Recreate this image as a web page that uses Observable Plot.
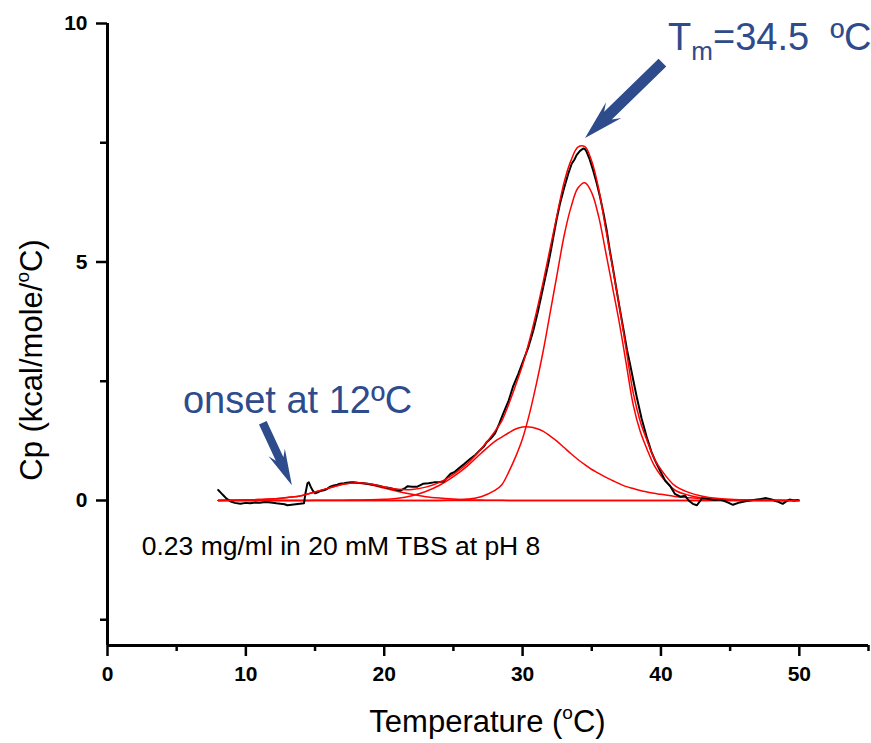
<!DOCTYPE html>
<html><head><meta charset="utf-8">
<script src="https://cdn.jsdelivr.net/npm/d3@7"></script>
<script src="https://cdn.jsdelivr.net/npm/@observablehq/plot@0.6"></script>
<style>
html,body{margin:0;padding:0;background:#fff;}
#chart svg{display:block;}
</style></head><body><div id="chart"></div>
<script>
// ---- fit curves (red) sampled along temperature ----
const fitT   = [8,9,10,11,12,13,14,15,16,17,18,19,20,21,22,23,24,25,26,27,28,28.5,29,29.5,30,30.5,31,31.5,32,32.5,33,33.5,34,34.5,35,35.5,36,36.5,37,37.5,38,38.5,39,39.5,40,41,42,43,44,45,46,47,48,49,50];
const comp1  = [0,0.005,0.01,0.02,0.035,0.065,0.1,0.18,0.26,0.34,0.365,0.33,0.26,0.19,0.13,0.08,0.05,0.03,0.015,0.008,0.004,0.003,0.002,0.001,0,0,0,0,0,0,0,0,0,0,0,0,0,0,0,0,0,0,0,0,0,0,0,0,0,0,0,0,0,0,0];
const comp2  = [0,0,0,0,0,0,0.002,0.003,0.005,0.007,0.01,0.015,0.025,0.045,0.1,0.19,0.32,0.5,0.72,0.99,1.24,1.33,1.42,1.5,1.54,1.54,1.51,1.45,1.35,1.24,1.11,0.98,0.86,0.75,0.65,0.57,0.49,0.42,0.35,0.29,0.25,0.21,0.18,0.15,0.13,0.085,0.06,0.04,0.025,0.015,0.01,0.005,0.003,0.001,0];
const comp3  = [0,0,0,0,0,0,0,0,0,0,0,0,0,0,0,0,0.002,0.01,0.03,0.08,0.21,0.33,0.6,0.92,1.3,1.82,2.45,3.15,3.95,4.75,5.55,6.15,6.55,6.66,6.45,5.95,5.22,4.47,3.71,2.85,2.0,1.45,1.07,0.74,0.52,0.22,0.11,0.05,0.02,0.01,0.005,0,0,0,0];
const fitSum = [0,0.005,0.01,0.02,0.035,0.065,0.1,0.18,0.26,0.34,0.37,0.345,0.285,0.235,0.23,0.28,0.38,0.55,0.77,1.08,1.45,1.67,2.02,2.42,2.84,3.36,3.95,4.6,5.3,6.0,6.67,7.13,7.41,7.42,7.11,6.53,5.71,4.89,4.06,3.14,2.25,1.66,1.25,0.89,0.65,0.31,0.17,0.09,0.045,0.025,0.015,0.005,0.003,0.001,0];
const baseT  = [8,50];
const baseCp = [0,0];

// ---- measured DSC trace (black) ----
const dataT  = [8.0,8.2,8.4,8.6,8.9,9.2,9.6,10.0,10.3,10.7,11.0,11.4,11.8,12.2,12.5,12.8,13.0,13.3,13.6,13.9,14.2,14.3,14.45,14.55,14.7,14.85,15.0,15.2,15.4,15.7,15.9,16.1,16.3,16.6,16.8,17.1,17.3,17.6,17.8,18.1,18.5,18.8,19.2,19.6,20.0,20.4,20.8,21.2,21.5,21.7,22.0,22.4,22.8,23.2,23.6,24.0,24.3,24.6,24.8,25.1,25.5,25.8,26.2,26.6,26.9,27.2,27.4,27.7,28.0,28.3,28.6,29.0,29.3,29.7,30.06,30.4,30.78,31.1,31.39,31.6,31.86,32.05,32.22,32.45,32.7,33.0,33.3,33.55,33.75,33.9,34.15,34.39,34.5,34.63,34.85,35.1,35.35,35.6,35.85,36.08,36.3,36.56,36.8,37.04,37.3,37.55,37.76,38.0,38.25,38.6,38.97,39.3,39.57,39.93,40.3,40.65,41.0,41.4,41.75,42.0,42.3,42.6,42.95,43.3,43.8,44.2,44.5,44.9,45.2,45.7,46.2,46.7,47.2,47.6,48.0,48.4,48.8,49.1,49.3,49.6,49.9];
const dataCp = [0.22,0.16,0.1,0.04,-0.02,-0.05,-0.07,-0.05,-0.06,-0.04,-0.05,-0.03,-0.04,-0.06,-0.07,-0.08,-0.1,-0.09,-0.08,-0.07,-0.06,0.14,0.36,0.38,0.28,0.2,0.15,0.17,0.2,0.22,0.25,0.29,0.31,0.33,0.35,0.36,0.37,0.38,0.38,0.37,0.36,0.35,0.33,0.31,0.28,0.26,0.23,0.21,0.26,0.3,0.29,0.29,0.35,0.36,0.38,0.39,0.4,0.5,0.56,0.6,0.7,0.77,0.87,0.96,1.05,1.13,1.22,1.3,1.4,1.6,1.82,2.1,2.38,2.66,2.94,3.2,3.57,3.95,4.34,4.62,4.97,5.25,5.52,5.88,6.22,6.55,6.85,7.06,7.15,7.24,7.33,7.38,7.37,7.31,7.15,6.92,6.66,6.36,6.02,5.66,5.25,4.82,4.4,3.99,3.57,3.15,2.87,2.52,2.17,1.72,1.33,1.03,0.84,0.63,0.42,0.31,0.14,0.08,0.1,0.0,-0.07,-0.1,0.04,0.04,0.01,0.02,0.0,-0.05,-0.09,-0.04,-0.01,0.01,0.03,0.05,0.02,-0.02,-0.07,-0.01,0.02,0.0,0.01];

// ---- axes ----
const xDomain = [0, 55];
const yDomain = [-3.04, 10];
const xTicks = [0,10,20,30,40,50];
const xMinor = [5,15,25,35,45,55];
const yTicks = [0,5,10];
const yMinor = [-2.5,2.5,7.5];
const xTitle = ["Temperature (", "o", "C)"];
const yTitle = ["Cp (kcal/mole/", "o", "C)"];

// ---- annotations (data coordinates) ----
const tmText   = ["T", "m", "=34.5  ºC"];
const tmPos    = [40.55, 9.44];
const tmArrow  = [40.14, 9.17, 34.55, 7.59];
const onsetText  = "onset at 12ºC";
const onsetPos   = [5.49, 1.83];
const onsetArrow = [11.26, 1.62, 13.36, 0.31];
const noteText = "0.23 mg/ml in 20 mM TBS at pH 8";
const notePos  = [2.51, -1.15];

const BLUE = "#2E4B8C";
const FONT = "'Liberation Sans', Arial, Helvetica, sans-serif";

const fitRows = fitT.map((t, i) => ({t, c1: comp1[i], c2: comp2[i], c3: comp3[i], s: fitSum[i]}));
const dataRows = dataT.map((t, i) => ({t, cp: dataCp[i]}));
const baseRows = baseT.map((t, i) => ({t, cp: baseCp[i]}));

function arrowPath(x, y, a, spec) {
  const x0 = x(a[0]), y0 = y(a[1]), x1 = x(a[2]), y1 = y(a[3]);
  const dx = x1 - x0, dy = y1 - y0, L = Math.hypot(dx, dy);
  const ux = dx / L, uy = dy / L, nx = -uy, ny = ux;
  const pts = [[0,0],[spec.head, spec.hw],[spec.head - spec.notch, spec.sw],[L, spec.sw],[L, -spec.sw],[spec.head - spec.notch, -spec.sw],[spec.head, -spec.hw]];
  return "M" + pts.map(([b, o]) => [x1 - ux*b + nx*o, y1 - uy*b + ny*o].map(v => v.toFixed(2)).join(",")).join("L") + "Z";
}

function annotations(index, scales, values, dims) {
  const {x, y} = scales;
  const g = d3.create("svg:g").attr("class", "annot").attr("font-family", FONT).attr("text-anchor", "start");
  g.append("path").attr("d", arrowPath(x, y, tmArrow, {head: 40, hw: 11, sw: 5.5, notch: 8})).attr("fill", BLUE);
  g.append("path").attr("d", arrowPath(x, y, onsetArrow, {head: 36, hw: 9, sw: 4.2, notch: 7})).attr("fill", BLUE);
  const t = g.append("text").attr("x", x(tmPos[0])).attr("y", y(tmPos[1])).attr("fill", BLUE).attr("font-size", 38).attr("text-anchor", "start").style("white-space", "pre");
  t.append("tspan").text(tmText[0]);
  t.append("tspan").attr("font-size", 26).attr("dy", 10).text(tmText[1]);
  t.append("tspan").attr("dy", -10).text(tmText[2]);
  g.append("text").attr("x", x(onsetPos[0])).attr("y", y(onsetPos[1])).attr("fill", BLUE).attr("font-size", 38).attr("text-anchor", "start").text(onsetText);
  g.append("text").attr("x", x(notePos[0])).attr("y", y(notePos[1])).attr("fill", "black").attr("font-size", 26.5).attr("text-anchor", "start").text(noteText);
  // axis titles
  const cx = (dims.marginLeft + dims.width - dims.marginRight) / 2;
  const xt = g.append("text").attr("x", cx).attr("y", 732).attr("text-anchor", "middle").attr("font-size", 31).attr("fill", "black");
  xt.append("tspan").text(xTitle[0]);
  xt.append("tspan").attr("font-size", 19).attr("dy", -13).text(xTitle[1]);
  xt.append("tspan").attr("dy", 13).text(xTitle[2]);
  const yt = g.append("text").attr("transform", "translate(42,360) rotate(-90)").attr("text-anchor", "middle").attr("font-size", 31).attr("fill", "black");
  yt.append("tspan").text(yTitle[0]);
  yt.append("tspan").attr("font-size", 19).attr("dy", -13).text(yTitle[1]);
  yt.append("tspan").attr("dy", 13).text(yTitle[2]);
  return g.node();
}

const red = {stroke: "#FF0000", strokeWidth: 1.5, curve: "catmull-rom"};

const chart = Plot.plot({
  width: 871, height: 743,
  marginLeft: 107, marginRight: 3, marginTop: 23, marginBottom: 98,
  style: {fontFamily: FONT, fontSize: "21px", color: "black", background: "white"},
  x: {domain: xDomain},
  y: {domain: yDomain},
  marks: [
    Plot.axisX({ticks: xTicks, tickSize: 11, tickPadding: 10, strokeWidth: 2.5, label: null, fontSize: 21, fontWeight: "bold"}),
    Plot.axisX({ticks: xMinor, tickSize: 6, strokeWidth: 2.5, label: null, tickFormat: () => ""}),
    Plot.axisY({ticks: yTicks, tickSize: 11, tickPadding: 9, strokeWidth: 2.5, label: null, fontSize: 21, fontWeight: "bold"}),
    Plot.axisY({ticks: yMinor, tickSize: 7, strokeWidth: 2.5, label: null, tickFormat: () => ""}),
    Plot.line(baseRows, {x: "t", y: "cp", ...red}),
    Plot.line(fitRows, {x: "t", y: "c1", ...red}),
    Plot.line(fitRows, {x: "t", y: "c2", ...red}),
    Plot.line(fitRows, {x: "t", y: "c3", ...red}),
    Plot.line(dataRows, {x: "t", y: "cp", stroke: "black", strokeWidth: 2}),
    Plot.line(fitRows, {x: "t", y: "s", ...red}),
    Plot.ruleX([xDomain[0]], {strokeWidth: 3}),
    Plot.ruleY([yDomain[0]], {strokeWidth: 3}),
    annotations
  ]
});
d3.select(chart).selectAll("text").filter(function() { return !this.closest(".annot"); })
  .attr("font-size", 21).style("font-size", "21px").style("font-family", FONT).style("font-weight", "bold");
document.getElementById("chart").appendChild(chart);
</script>
</body></html>
